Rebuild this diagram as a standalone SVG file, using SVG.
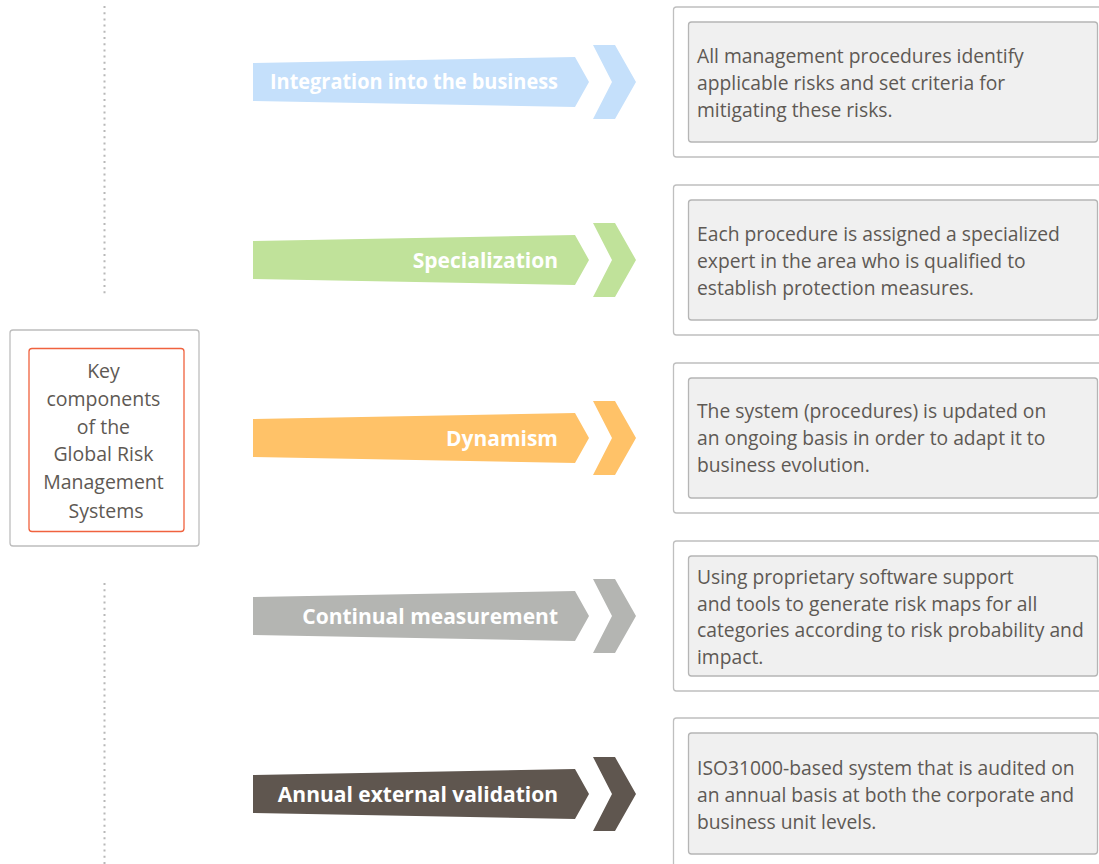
<svg xmlns="http://www.w3.org/2000/svg" width="1099" height="864" viewBox="0 0 1099 864">
<style>
.outer{fill:#ffffff;stroke:#bfbfbf;stroke-width:1.3}
.inner{fill:#f0f0f0;stroke:#b5b5b5;stroke-width:1.3}
.txt{font-family:"Open Sans","Noto Sans","DejaVu Sans",sans-serif;font-size:19.3px;fill:#5e5954}
.ktxt{font-family:"Open Sans","Noto Sans","DejaVu Sans",sans-serif;font-size:19.5px;fill:#5e5954;text-anchor:middle}
.lbl{font-family:"Open Sans","Noto Sans","DejaVu Sans",sans-serif;font-size:21px;font-weight:bold;fill:#ffffff;text-anchor:end}
.dots{stroke:#b8b8b8;stroke-width:2;stroke-dasharray:2 4.2;fill:none}
</style>
<defs>
<path id="arrow" d="M253,-19 L575,-25 L589,0 L575,25 L253,19 Z M593,-37 L615,-37 L636,0 L615,37 L593,37 L612,0 Z"/>
</defs>
<g id="dotted-lines">
<line class="dots" x1="104.5" y1="6" x2="104.5" y2="294"/>
<line class="dots" x1="104.5" y1="583" x2="104.5" y2="864"/>
</g>
<g id="key-components">
<rect x="10" y="330" width="189" height="216" rx="3" fill="#ffffff" stroke="#bdbdbd" stroke-width="1.3"/>
<rect x="29" y="348.5" width="155" height="183" rx="3" fill="#ffffff" stroke="#f0623e" stroke-width="1.3"/>
<text class="ktxt">
<tspan x="106" y="378">Key</tspan>
<tspan x="106" y="406">components</tspan>
<tspan x="106" y="434">of the</tspan>
<tspan x="106" y="461">Global Risk</tspan>
<tspan x="106" y="489">Management</tspan>
<tspan x="106" y="518">Systems</tspan>
</text>
</g>
<g id="arrow-integration">
<use href="#arrow" transform="translate(0,82)" fill="#c5e0fb"/>
<text class="lbl" x="558" y="89" textLength="288" lengthAdjust="spacingAndGlyphs">Integration into the business</text>
</g>
<g id="arrow-specialization">
<use href="#arrow" transform="translate(0,260)" fill="#c0e29a"/>
<text class="lbl" x="558" y="268">Specialization</text>
</g>
<g id="arrow-dynamism">
<use href="#arrow" transform="translate(0,438)" fill="#ffc268"/>
<text class="lbl" x="558" y="446">Dynamism</text>
</g>
<g id="arrow-measurement">
<use href="#arrow" transform="translate(0,616)" fill="#b4b5b2"/>
<text class="lbl" x="558" y="624">Continual measurement</text>
</g>
<g id="arrow-validation">
<use href="#arrow" transform="translate(0,794)" fill="#5f564f"/>
<text class="lbl" x="558" y="802">Annual external validation</text>
</g>
<g id="box-integration">
<rect class="outer" x="673.5" y="7" width="440" height="150" rx="3"/>
<rect class="inner" x="688.5" y="22" width="409" height="120" rx="3"/>
<text class="txt"><tspan x="697" y="63">All management procedures identify</tspan><tspan x="697" y="90">applicable risks and set criteria for</tspan><tspan x="697" y="117">mitigating these risks.</tspan></text>
</g>
<g id="box-specialization">
<rect class="outer" x="673.5" y="185" width="440" height="150" rx="3"/>
<rect class="inner" x="688.5" y="200" width="409" height="120" rx="3"/>
<text class="txt"><tspan x="697" y="241">Each procedure is assigned a specialized</tspan><tspan x="697" y="268">expert in the area who is qualified to</tspan><tspan x="697" y="295">establish protection measures.</tspan></text>
</g>
<g id="box-dynamism">
<rect class="outer" x="673.5" y="363" width="440" height="150" rx="3"/>
<rect class="inner" x="688.5" y="378" width="409" height="120" rx="3"/>
<text class="txt"><tspan x="697" y="418">The system (procedures) is updated on</tspan><tspan x="697" y="445">an ongoing basis in order to adapt it to</tspan><tspan x="697" y="472">business evolution.</tspan></text>
</g>
<g id="box-measurement">
<rect class="outer" x="673.5" y="541" width="440" height="150" rx="3"/>
<rect class="inner" x="688.5" y="556" width="409" height="120" rx="3"/>
<text class="txt"><tspan x="697" y="584">Using proprietary software support</tspan><tspan x="697" y="611">and tools to generate risk maps for all</tspan><tspan x="697" y="637">categories according to risk probability and</tspan><tspan x="697" y="664">impact.</tspan></text>
</g>
<g id="box-validation">
<rect class="outer" x="673.5" y="718" width="440" height="160" rx="3"/>
<rect class="inner" x="688.5" y="733" width="409" height="121" rx="3"/>
<text class="txt"><tspan x="697" y="775">ISO31000-based system that is audited on</tspan><tspan x="697" y="802">an annual basis at both the corporate and</tspan><tspan x="697" y="829">business unit levels.</tspan></text>
</g>
</svg>
